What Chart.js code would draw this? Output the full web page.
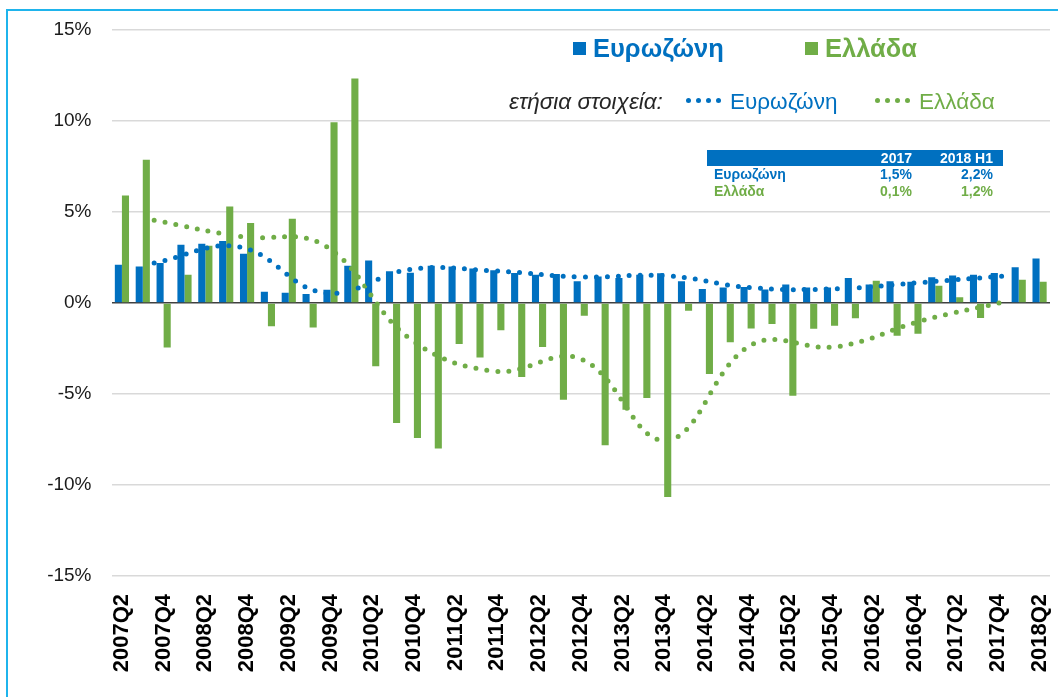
<!DOCTYPE html>
<html>
<head>
<meta charset="utf-8">
<script src="https://cdn.jsdelivr.net/npm/chart.js@4.4.1/dist/chart.umd.min.js"></script>
<style>
html, body { margin: 0; padding: 0; background: #fff; }
#wrap { position: relative; width: 1058px; height: 697px; overflow: hidden; font-family: "Liberation Sans", Arial, sans-serif; }
#frame { position: absolute; left: 6px; top: 9px; width: 1100px; height: 800px; border-left: 2px solid #1FB4EC; border-top: 2px solid #1FB4EC; }
canvas { position: absolute; left: 0; top: 0; }
.t { position: absolute; white-space: nowrap; line-height: 1; }
.sq { position: absolute; width: 13px; height: 13px; }
.dot { position: absolute; width: 5px; height: 5px; border-radius: 50%; }
</style>
</head>
<body>
<div id="wrap">
  <div id="frame"></div>
  <canvas id="chart" width="1058" height="697"></canvas>
  <canvas id="lines" width="1058" height="697"></canvas>
  <div id="overlay"></div>
</div>
<script>
const quarters = [
  "2007Q2","2007Q3","2007Q4","2008Q1","2008Q2","2008Q3","2008Q4","2009Q1","2009Q2","2009Q3","2009Q4",
  "2010Q1","2010Q2","2010Q3","2010Q4","2011Q1","2011Q2","2011Q3","2011Q4","2012Q1","2012Q2","2012Q3","2012Q4",
  "2013Q1","2013Q2","2013Q3","2013Q4","2014Q1","2014Q2","2014Q3","2014Q4","2015Q1","2015Q2","2015Q3","2015Q4",
  "2016Q1","2016Q2","2016Q3","2016Q4","2017Q1","2017Q2","2017Q3","2017Q4","2018Q1","2018Q2"
];

// quarterly bars
const euroQ = [
  2.1, 2.0, 2.2, 3.2, 3.25, 3.4, 2.7, 0.62, 0.57, 0.5, 0.73,
  2.05, 2.34, 1.74, 1.66, 2.05, 2.0, 1.9, 1.8, 1.65, 1.55, 1.6, 1.19,
  1.46, 1.37, 1.55, 1.64, 1.19, 0.77, 0.85, 0.88, 0.74, 1.02, 0.85, 0.85,
  1.37, 1.02, 1.2, 1.17, 1.41, 1.51, 1.55, 1.65, 1.96, 2.45
];
const greeceQ = [
  5.9, 7.87, -2.45, 1.55, 3.15, 5.3, 4.4, -1.28, 4.63, -1.34, 9.93,
  12.34, -3.48, -6.6, -7.42, -8.0, -2.25, -2.99, -1.5, -4.07, -2.42, -5.31, -0.7,
  -7.82, -5.86, -5.22, -10.66, -0.42, -3.9, -2.16, -1.4, -1.16, -5.1, -1.41, -1.25,
  -0.84, 1.22, -1.8, -1.69, 0.95, 0.31, -0.83, 0, 1.28, 1.17
];

// annual data (dotted lines), placed at Q4 of each year
const years = ["2007","2008","2009","2010","2011","2012","2013","2014","2015","2016","2017"];
const euroYear = [2.2, 3.08, 0.55, 1.85, 1.76, 1.43, 1.5, 0.84, 0.78, 1.13, 1.5];
const greeceYear = [4.55, 3.66, 3.15, -1.97, -3.75, -3.07, -7.55, -2.3, -2.4, -0.97, 0.1];

// small table
const tableCols = ["2017", "2018 H1"];
const tableEuro = ["1,5%", "2,2%"];
const tableGreece = ["0,1%", "1,2%"];

const BLUE = "#0070C0";
const GREEN = "#70AD47";
const FONT = '"Liberation Sans", Arial, sans-serif';
Chart.defaults.font.family = FONT;

// bars + axes
new Chart(document.getElementById("chart"), {
  type: "bar",
  data: {
    labels: quarters,
    datasets: [
      {
        label: "Ευρωζώνη",
        data: euroQ,
        backgroundColor: BLUE,
        categoryPercentage: 0.68,
        barPercentage: 1
      },
      {
        label: "Ελλάδα",
        data: greeceQ,
        backgroundColor: GREEN,
        categoryPercentage: 0.68,
        barPercentage: 1
      }
    ]
  },
  options: {
    responsive: false,
    animation: false,
    layout: { padding: { left: 11.5, right: 8, top: 30, bottom: 0 } },
    plugins: { legend: { display: false }, tooltip: { enabled: false } },
    scales: {
      x: {
        grid: { display: false },
        border: { display: false },
        ticks: {
          autoSkip: false,
          maxRotation: 90,
          minRotation: 90,
          padding: 10,
          color: "#000",
          font: { size: 22, weight: "bold" },
          callback: (v, i) => (i % 2 === 0 ? quarters[i] : "")
        },
        afterFit: s => { s.height = 121; s.paddingLeft = 0; s.paddingRight = 0; }
      },
      y: {
        min: -15,
        max: 15,
        ticks: {
          stepSize: 5,
          padding: 20,
          color: "#1a1a1a",
          font: { size: 19 },
          callback: v => v + "%"
        },
        grid: {
          drawTicks: false,
          color: c => (c.tick && c.tick.value === 0 ? "#404040" : "#d9d9d9"),
          lineWidth: 1.5
        },
        border: { display: false },
        afterFit: s => { s.width = 100; s.paddingTop = 0; s.paddingBottom = 0; }
      }
    }
  }
});

// annual dotted lines: second chart on top, same plot area,
// x points on tick marks like the secondary axis of the original
new Chart(document.getElementById("lines"), {
  type: "line",
  data: {
    labels: quarters,
    datasets: [
      {
        label: "Ευρωζώνη (ετήσια)",
        data: years.map((y, i) => ({ x: y + "Q4", y: euroYear[i] })),
        borderColor: BLUE,
        borderWidth: 5,
        borderDash: [0, 11],
        borderCapStyle: "round",
        pointRadius: 0,
        tension: 0.4,
        fill: false
      },
      {
        label: "Ελλάδα (ετήσια)",
        data: years.map((y, i) => ({ x: y + "Q4", y: greeceYear[i] })),
        borderColor: GREEN,
        borderWidth: 5,
        borderDash: [0, 11],
        borderCapStyle: "round",
        pointRadius: 0,
        tension: 0.4,
        fill: false
      }
    ]
  },
  options: {
    responsive: false,
    animation: false,
    layout: { padding: { left: 111.5, right: 8, top: 30, bottom: 121 } },
    plugins: { legend: { display: false }, tooltip: { enabled: false } },
    scales: {
      x: { type: "category", offset: false, display: false },
      y: { min: -15, max: 15, display: false }
    }
  }
});

// legend + table as html text
const ov = document.getElementById("overlay");
function txt(s, left, top, css) {
  const d = document.createElement("div");
  d.className = "t";
  d.textContent = s;
  d.style.left = left + "px";
  d.style.top = top + "px";
  Object.assign(d.style, css || {});
  ov.appendChild(d);
  return d;
}
function txtR(s, right, top, css) {
  const d = txt(s, 0, top, css);
  d.style.left = "";
  d.style.right = (1058 - right) + "px";
  return d;
}
function box(cls, left, top, color) {
  const d = document.createElement("div");
  d.className = cls;
  d.style.left = left + "px";
  d.style.top = top + "px";
  d.style.background = color;
  ov.appendChild(d);
}

// legend row 1
box("sq", 573, 42, BLUE);
txt("Ευρωζώνη", 593, 36, { color: BLUE, fontSize: "25.5px", fontWeight: "bold" });
box("sq", 805, 42, GREEN);
txt("Ελλάδα", 825, 36, { color: GREEN, fontSize: "25.5px", fontWeight: "bold" });

// legend row 2
txt("ετήσια στοιχεία:", 509, 91, { color: "#262626", fontSize: "22.5px", fontStyle: "italic" });
[686, 696, 706, 716].forEach(x => box("dot", x, 98, BLUE));
txt("Ευρωζώνη", 730, 91, { color: BLUE, fontSize: "22.5px" });
[875, 885, 895, 905].forEach(x => box("dot", x, 98, GREEN));
txt("Ελλάδα", 919, 91, { color: GREEN, fontSize: "22.5px" });

// table
const hdr = document.createElement("div");
Object.assign(hdr.style, { position: "absolute", left: "707px", top: "150px", width: "296px", height: "16px", background: BLUE });
ov.appendChild(hdr);
const colRight = [912, 993];
tableCols.forEach((c, i) => txtR(c, colRight[i], 151, { color: "#fff", fontSize: "14px", fontWeight: "bold" }));
txt("Ευρωζώνη", 714, 167, { color: BLUE, fontSize: "14px", fontWeight: "bold" });
tableEuro.forEach((v, i) => txtR(v, colRight[i], 167, { color: BLUE, fontSize: "14px", fontWeight: "bold" }));
txt("Ελλάδα", 714, 184, { color: GREEN, fontSize: "14px", fontWeight: "bold" });
tableGreece.forEach((v, i) => txtR(v, colRight[i], 184, { color: GREEN, fontSize: "14px", fontWeight: "bold" }));
</script>
</body>
</html>
